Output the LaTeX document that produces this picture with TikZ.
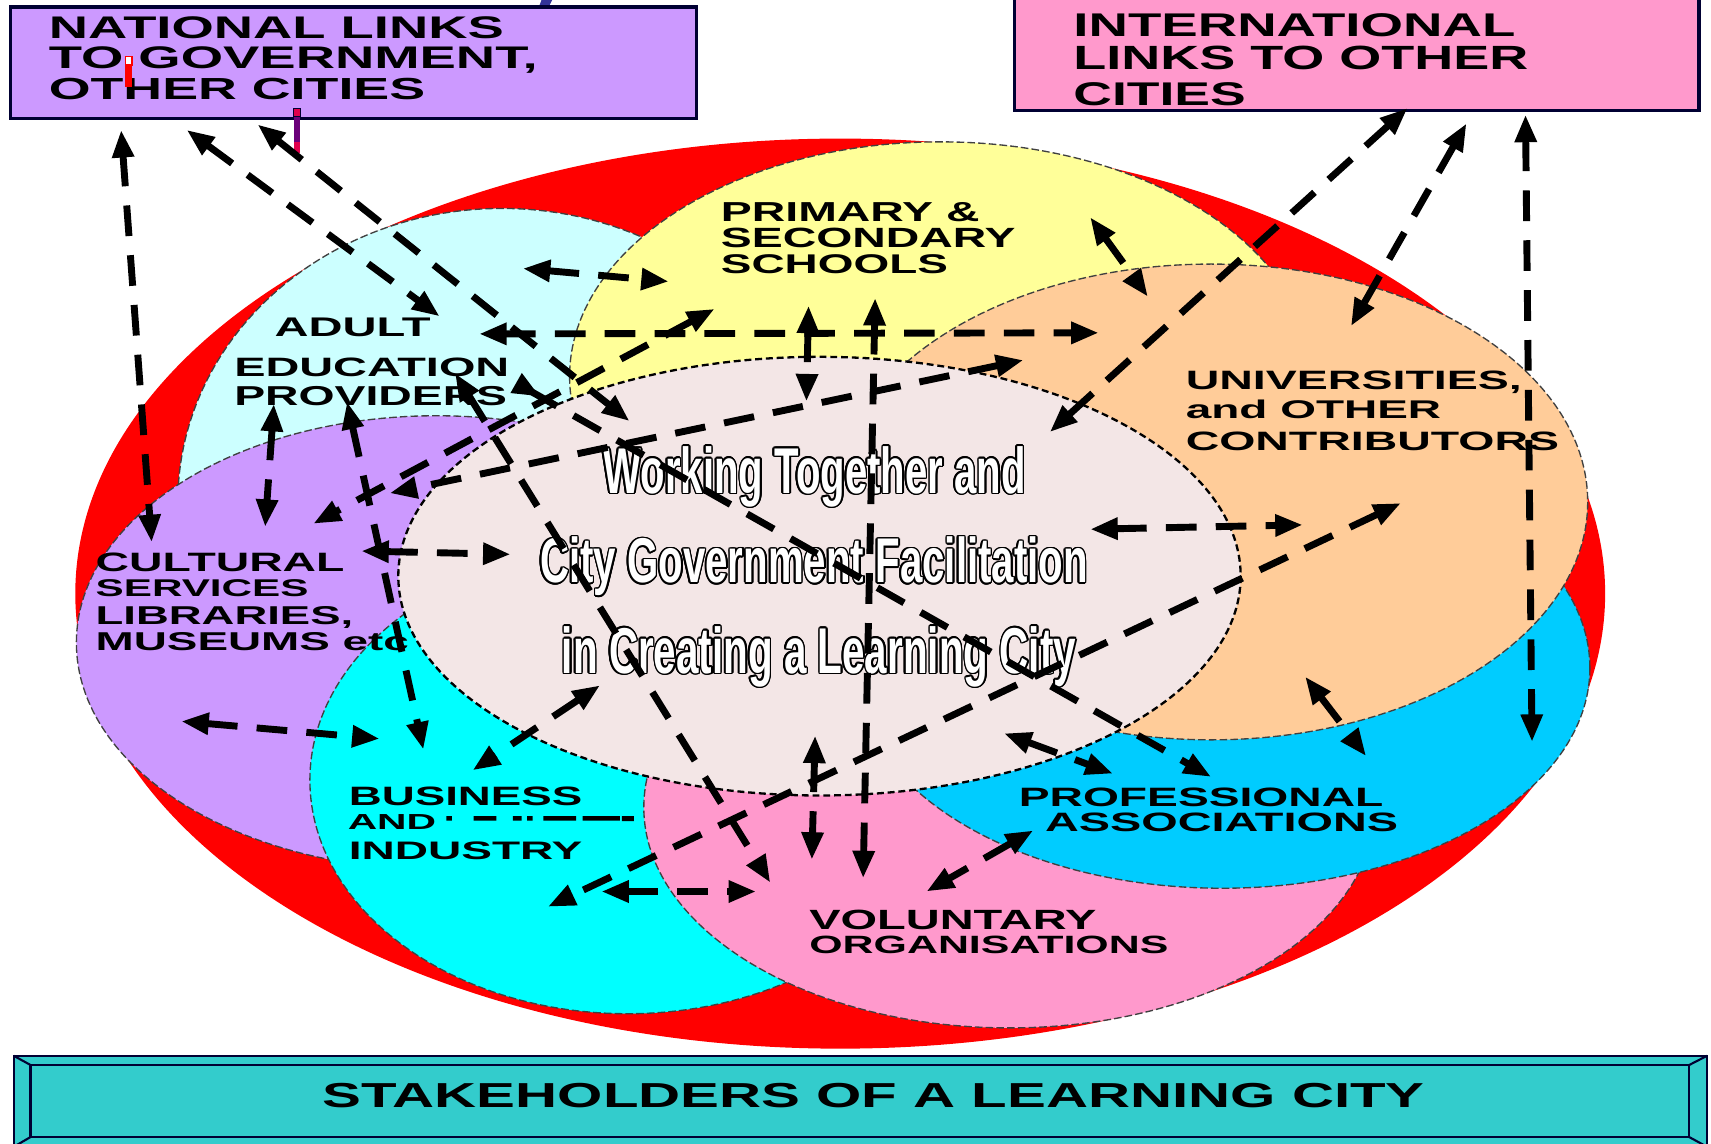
\documentclass[tikz,border=0pt]{standalone}
\usepackage{fontspec}
\setmainfont{Liberation Sans}
\usetikzlibrary{arrows.meta}
\definecolor{redc}{HTML}{FF0000}
\definecolor{adultc}{HTML}{CCFFFF}
\definecolor{yellowc}{HTML}{FFFF99}
\definecolor{orangec}{HTML}{FFCC99}
\definecolor{bluec}{HTML}{00CCFF}
\definecolor{pinkc}{HTML}{FF99CC}
\definecolor{busc}{HTML}{00FFFF}
\definecolor{purplec}{HTML}{CC99FF}
\definecolor{bannerc}{HTML}{33CCCC}
\definecolor{navyc}{HTML}{000033}
\definecolor{markc}{HTML}{333399}
\definecolor{centrec}{HTML}{F3E6E6}
\definecolor{crimc}{HTML}{E0004C}
\definecolor{plumc}{HTML}{6B007A}
\newlength\upx \setlength\upx{0.01cm}
\newcommand\fit[3]{\resizebox{#1\upx}{#2\upx}{\bfseries #3}}
\newbox\hb
\newcommand\hc[2]{\rlap{\kern#1\raise#2\copy\hb}}
\newcommand\halo[1]{\setbox\hb\hbox{#1}%
  {\color{black}\hc{.42pt}{0pt}\hc{.39pt}{.16pt}\hc{.3pt}{.3pt}\hc{.16pt}{.39pt}%
   \hc{0pt}{.42pt}\hc{-.16pt}{.39pt}\hc{-.3pt}{.3pt}\hc{-.39pt}{.16pt}%
   \hc{-.42pt}{0pt}\hc{-.39pt}{-.16pt}\hc{-.3pt}{-.3pt}\hc{-.16pt}{-.39pt}%
   \hc{0pt}{-.42pt}\hc{.16pt}{-.39pt}\hc{.3pt}{-.3pt}\hc{.39pt}{-.16pt}}%
  {\color{white}\copy\hb}}
\tikzset{
  petal/.style={draw=black!75, line width=0.35pt, dash pattern=on 2pt off 0.8pt},
  centre/.style={fill=centrec, draw=black, line width=0.6pt, dash pattern=on 1.8pt off 1pt},
  boxline/.style={draw=navyc, line width=0.85pt},
  bandline/.style={draw=navyc, line width=0.55pt},
  conn/.style={line width=1.8pt, dash pattern=on 8pt off 5pt,
    {Triangle[length=7.2pt,width=5.4pt]}-{Triangle[length=7.2pt,width=5.4pt]}},
  connr/.style={line width=1.8pt, dash pattern=on 8pt off 5pt,
    {Triangle[length=7.2pt,width=5.4pt,reversed]}-{Triangle[length=7.2pt,width=5.4pt]}},
  lab/.style={inner sep=0pt, anchor=base west, text=black},
  ctext/.style={inner sep=0pt, anchor=base},
}
\begin{document}
\begin{tikzpicture}[x=0.01cm,y=-0.01cm]
\useasboundingbox (0,0) rectangle (1568,1048);
\clip (0,0) rectangle (1568,1048);
% title fragments at the top edge
\fill[markc] (497,-2) -- (507,-2) -- (503,6) -- (494,6) -- cycle;
\fill[markc] (1108,-9) circle [radius=15];
% top boxes
\draw[boxline, fill=purplec] (9.5,6.5) rectangle (638.5,108.5);
\draw[boxline, fill=pinkc] (929.5,-10) rectangle (1557,101.5);
% big ring
\fill[redc] (770,544) ellipse [x radius=701, y radius=417];
\filldraw[petal, fill=adultc] (460,460) ellipse [x radius=297, y radius=269];
\filldraw[petal, fill=purplec] (400,589) ellipse [x radius=330, y radius=208];
\filldraw[petal, fill=busc] (575,715) ellipse [x radius=291, y radius=214];
\filldraw[petal, fill=pinkc] (925,740) ellipse [x radius=335, y radius=202];
\filldraw[petal, fill=bluec] (1120,612) ellipse [x radius=337, y radius=202];
\filldraw[petal, fill=yellowc] (862,345) ellipse [x radius=340, y radius=215];
\filldraw[petal, fill=orangec] (1110,460) ellipse [x radius=345, y radius=218];
\path[centre] (751,528) ellipse [x radius=386, y radius=201];
% bottom banner
\draw[bandline, fill=bannerc] (12.5,967.5) rectangle (1564.5,1070);
\draw[bandline] (28,976) rectangle (1548,1042);
\draw[bandline] (12.5,967.5) -- (28,976) (1564.5,967.5) -- (1548,976)
  (28,1042) -- (12.5,1051) (1548,1042) -- (1564.5,1051);
% texts
\node[lab] (nat1) at (44,35) {\fit{417}{20}{NATIONAL LINKS}};
\node[lab] (nat2) at (44,63) {\fit{448}{20}{TO GOVERNMENT,}};
\node[lab] (nat3) at (44,91) {\fit{345}{19.5}{OTHER CITIES}};
\node[lab] (int1) at (983,33) {\fit{405}{21}{INTERNATIONAL}};
\node[lab] (int2) at (983,64) {\fit{417}{21.5}{LINKS TO OTHER}};
\node[lab] (int3) at (983,97) {\fit{158}{21}{CITIES}};
\node[lab] (ad1) at (251,308.5) {\fit{143}{17}{ADULT}};
\node[lab] (ad2) at (214,344.6) {\fit{252}{17}{EDUCATION}};
\node[lab] (ad3) at (214,372) {\fit{250}{17.5}{PROVIDERS}};
\node[lab] (pr1) at (660,203) {\fit{237}{17.4}{PRIMARY \&}};
\node[lab] (pr2) at (660,227) {\fit{270}{17.8}{SECONDARY}};
\node[lab] (pr3) at (660,251) {\fit{208}{17.3}{SCHOOLS}};
\node[lab] (un1) at (1086,357) {\fit{308}{17}{UNIVERSITIES,}};
\node[lab] (un2) at (1086,383.4) {\fit{234}{17}{and OTHER}};
\node[lab] (un3) at (1086,412.4) {\fit{342}{17}{CONTRIBUTORS}};
\node[lab] (cu1) at (87,524) {\fit{228}{17}{CULTURAL}};
\node[lab] (cu2) at (87,546.2) {\fit{195}{15.5}{SERVICES}};
\node[lab] (cu3) at (87,572) {\fit{236}{16.5}{LIBRARIES,}};
\node[lab] (cu4) at (87,596.3) {\fit{287}{16.5}{MUSEUMS etc}};
\node[lab] (bu1) at (319,738) {\fit{214}{17}{BUSINESS}};
\node[lab] (bu2) at (318,760.6) {\fit{81}{13.7}{AND}};
\node[lab] (bu3) at (319,787.5) {\fit{214}{16.2}{INDUSTRY}};
\node[lab] (pf1) at (933,739) {\fit{334}{17}{PROFESSIONAL}};
\node[lab] (pf2) at (957,762) {\fit{323.5}{17}{ASSOCIATIONS}};
\node[lab] (vo1) at (741,852) {\fit{263}{17.8}{VOLUNTARY}};
\node[lab] (vo2) at (741,873.6) {\fit{329}{16}{ORGANISATIONS}};
\node[lab] (band) at (295,1015) {\fit{1010}{22.2}{STAKEHOLDERS OF A LEARNING CITY}};
\node[ctext] (ce1) at (746.5,452) {\halo{\fit{387}{43}{Working Together and}}};
\node[ctext] (ce2) at (746,534) {\halo{\fit{502}{42}{City Government Facilitation}}};
\node[ctext] (ce3) at (750.5,617) {\halo{\fit{471}{43}{in Creating a Learning City}}};
% fragments beside AND
\fill[black] (409,748) rectangle (414,752) (434,748) rectangle (455,752)
  (470,748) rectangle (478,752) (483,748) rectangle (488,752)
  (498,748) rectangle (528,752) (534,748) rectangle (568,752)
  (570,748) rectangle (581,752.5);
% marks in the national box
\draw[red, line width=0.3pt, fill=white] (115,52) rectangle (121,59.5);
\fill[red] (115,59.5) rectangle (121,80);
\draw[navyc, line width=0.3pt, fill=crimc] (269,99.5) rectangle (275,107);
\fill[plumc] (269,107) rectangle (275,130);
\fill[crimc] (269,130) rectangle (275,140.5);
% connector ends
\coordinate (a1) at (111,119);  \coordinate (a2) at (139,497);
\coordinate (b1) at (171,119);  \coordinate (b2) at (403,290);
\coordinate (c1) at (236,114);  \coordinate (c2) at (577,386);
\coordinate (d1) at (479,246);  \coordinate (d2) at (613,258);
\coordinate (e1) at (439,306);  \coordinate (e2) at (1007,305);
\coordinate (f1) at (741,280);  \coordinate (f2) at (739,368);
\coordinate (g1) at (802,273);  \coordinate (g2) at (791,805);
\coordinate (h1) at (999,199);  \coordinate (h2) at (1052,272);
\coordinate (i1) at (1290,99);  \coordinate (i2) at (962,396);
\coordinate (j1) at (1344,113); \coordinate (j2) at (1238,299);
\coordinate (k1) at (1398,105); \coordinate (k2) at (1404,680);
\coordinate (m1) at (251,370);  \coordinate (m2) at (243,483);
\coordinate (n1) at (318,368);  \coordinate (n2) at (388,687);
\coordinate (o1) at (655,283);  \coordinate (o2) at (287,480);
\coordinate (p1) at (938,330);  \coordinate (p2) at (357,452);
\coordinate (q1) at (331,505);  \coordinate (q2) at (468,508);
\coordinate (r1) at (166,661);  \coordinate (r2) at (348,677);
\coordinate (s1) at (550,628);  \coordinate (s2) at (433,706);
\coordinate (t1) at (551,817);  \coordinate (t2) at (693,817);
\coordinate (u1) at (1284,461); \coordinate (u2) at (502,831);
\coordinate (v1) at (747,674);  \coordinate (v2) at (744,788);
\coordinate (w1) at (920,672);  \coordinate (w2) at (1020,709);
\coordinate (x1) at (1196,620); \coordinate (x2) at (1252,693);
\coordinate (y1) at (947,761);  \coordinate (y2) at (849,817);
\coordinate (z1) at (999,485);  \coordinate (z2) at (1194,481);
\coordinate (aa1) at (417,342); \coordinate (aa2) at (706,809);
\coordinate (bb1) at (473,351); \coordinate (bb2) at (1110,712);
% connectors
\foreach \k in {a,b,c,d,e,f,g,h,i,j,k,m,n,o,p,q,r,s,t,u,v,w,x,y,z,aa}
  \draw[conn] (\k1) -- (\k2);
\draw[connr] (bb1) -- (bb2);
\end{tikzpicture}
\end{document}
